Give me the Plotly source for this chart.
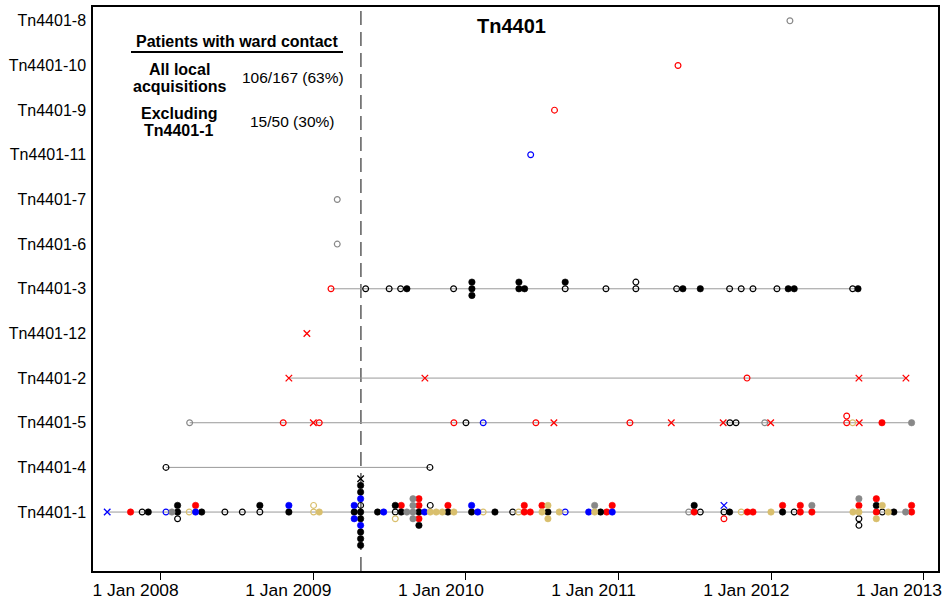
import plotly.graph_objects as go

# Rows, bottom to top
row_names = ["Tn4401-1", "Tn4401-4", "Tn4401-5", "Tn4401-2", "Tn4401-12", "Tn4401-3",
             "Tn4401-6", "Tn4401-7", "Tn4401-11", "Tn4401-9", "Tn4401-10", "Tn4401-8"]

tick_years = [2008, 2009, 2010, 2011, 2012, 2013]
tick_labels = ["1 Jan 2008", "1 Jan 2009", "1 Jan 2010", "1 Jan 2011", "1 Jan 2012", "1 Jan 2013"]

cutoff_year = 2009.312   # dashed vertical line

# events: (decimal year, colour+type code, stack level)
# colour: k black, r red, b blue, g grey, t tan ; type: f filled, o open, x cross
tn1_events = [
    (2007.650, "bx", 0), (2007.803, "rf", 0), (2007.879, "ko", 0), (2007.919, "kf", 0),
    (2008.035, "bo", 0), (2008.074, "gf", 0),
    (2008.111, "kf", 0), (2008.111, "kf", 1), (2008.111, "ko", -1),
    (2008.187, "to", 0), (2008.229, "bf", 0), (2008.229, "rf", 1), (2008.269, "kf", 0),
    (2008.421, "ko", 0), (2008.535, "ko", 0), (2008.650, "ko", 0), (2008.650, "kf", 1),
    (2008.840, "kf", 0), (2008.840, "bf", 1),
    (2009.002, "to", 0), (2009.002, "to", 1), (2009.039, "tf", 0),
    (2009.268, "kf", 0), (2009.268, "bf", 1), (2009.268, "bf", -1),
    (2009.310, "kx", 5), (2009.310, "kf", 4), (2009.310, "kf", 3), (2009.310, "bf", 2),
    (2009.310, "ko", 1), (2009.310, "kf", 0), (2009.310, "kf", -1), (2009.310, "bf", -2),
    (2009.310, "kf", -3), (2009.310, "kf", -4), (2009.310, "kf", -5),
    (2009.421, "kf", 0), (2009.461, "bf", 0),
    (2009.537, "ko", 0), (2009.537, "kf", 1), (2009.537, "to", -1),
    (2009.576, "kf", 0), (2009.576, "rf", 1), (2009.613, "gf", 0),
    (2009.653, "gf", 2), (2009.653, "gf", 1), (2009.653, "gf", 0), (2009.653, "gf", -1),
    (2009.692, "rf", 2), (2009.692, "rf", 1), (2009.692, "kf", 0), (2009.692, "rf", -1),
    (2009.692, "kf", -2),
    (2009.729, "bf", 0), (2009.766, "tf", 0), (2009.766, "ko", 1),
    (2009.805, "tf", 0), (2009.845, "tf", 0), (2009.882, "kf", 0), (2009.882, "rf", 1),
    (2009.921, "tf", 0),
    (2010.037, "kf", 0), (2010.037, "bf", 1), (2010.077, "bf", 0), (2010.113, "to", 0),
    (2010.190, "kf", 0), (2010.306, "ko", 0), (2010.345, "to", 0),
    (2010.382, "rf", 0), (2010.382, "rf", 1), (2010.421, "rf", 0),
    (2010.498, "tf", 0), (2010.498, "rf", 1),
    (2010.537, "kf", 0), (2010.537, "tf", 1), (2010.537, "tf", -1),
    (2010.611, "tf", 0), (2010.650, "bo", 0),
    (2010.804, "bf", 0), (2010.843, "tf", 0), (2010.843, "gf", 1), (2010.882, "kf", 0),
    (2010.922, "rf", 0), (2010.958, "bf", 0), (2010.958, "rf", 1),
    (2011.459, "go", 0), (2011.495, "rf", 0), (2011.495, "kf", 1), (2011.535, "ko", 0),
    (2011.690, "ko", 0), (2011.690, "bx", 1), (2011.690, "ro", -1), (2011.727, "kf", 0),
    (2011.803, "to", 0), (2011.843, "rf", 0), (2011.880, "rf", 0), (2011.998, "tf", 0),
    (2012.074, "kf", 0), (2012.074, "rf", 1), (2012.150, "ko", 0),
    (2012.190, "rf", 0), (2012.190, "rf", 1), (2012.266, "rf", 0), (2012.266, "gf", 1),
    (2012.535, "tf", 0),
    (2012.574, "tf", 0), (2012.574, "rf", 1), (2012.574, "gf", 2), (2012.574, "ko", -1),
    (2012.574, "ko", -2),
    (2012.688, "rf", 0), (2012.688, "kf", 1), (2012.688, "rf", 2), (2012.688, "tf", -1),
    (2012.727, "ko", 0), (2012.727, "tf", 1), (2012.766, "tf", 0), (2012.803, "kf", 0),
    (2012.880, "gf", 0), (2012.919, "rf", 0), (2012.919, "rf", 1),
]

tn4_events = [(2008.035, "ko", 0), (2009.764, "ko", 0)]

tn5_events = [
    (2008.190, "go", 0), (2008.803, "ro", 0), (2009.000, "rx", 0), (2009.039, "ro", 0),
    (2009.921, "ro", 0), (2010.000, "ko", 0), (2010.113, "bo", 0), (2010.458, "ro", 0),
    (2010.576, "rx", 0), (2011.074, "ro", 0), (2011.345, "rx", 0), (2011.685, "rx", 0),
    (2011.729, "ko", 0), (2011.769, "ko", 0), (2011.957, "go", 0), (2011.996, "rx", 0),
    (2012.494, "ro", 0), (2012.494, "ro", 1), (2012.533, "to", 0), (2012.576, "rx", 0),
    (2012.725, "rf", 0), (2012.919, "gf", 0),
]

tn2_events = [(2008.840, "rx", 0), (2009.731, "rx", 0), (2011.841, "ro", 0),
              (2012.574, "rx", 0), (2012.882, "rx", 0)]

tn12_events = [(2008.958, "rx", 0)]

tn3_events = [
    (2009.116, "ro", 0), (2009.343, "ko", 0), (2009.497, "ko", 0), (2009.572, "ko", 0),
    (2009.613, "kf", 0), (2009.919, "ko", 0),
    (2010.039, "kf", 1), (2010.039, "kf", 0), (2010.039, "kf", -1),
    (2010.347, "kf", 0), (2010.347, "kf", 1), (2010.384, "kf", 0),
    (2010.650, "ko", 0), (2010.650, "kf", 1), (2010.917, "ko", 0),
    (2011.113, "ko", 0), (2011.113, "ko", 1), (2011.380, "ko", 0), (2011.421, "kf", 0),
    (2011.535, "kf", 0), (2011.727, "ko", 0), (2011.803, "ko", 0), (2011.880, "ko", 0),
    (2012.037, "ko", 0), (2012.111, "kf", 0), (2012.150, "kf", 0),
    (2012.533, "ko", 0), (2012.568, "kf", 0),
]

tn6_events = [(2009.157, "go", 0)]
tn7_events = [(2009.157, "go", 0)]
tn11_events = [(2010.424, "bo", 0)]
tn9_events = [(2010.580, "ro", 0)]
tn10_events = [(2011.389, "ro", 0)]
tn8_events = [(2012.122, "go", 0)]

rows = {
    "Tn4401-1": tn1_events, "Tn4401-4": tn4_events, "Tn4401-5": tn5_events,
    "Tn4401-2": tn2_events, "Tn4401-12": tn12_events, "Tn4401-3": tn3_events,
    "Tn4401-6": tn6_events, "Tn4401-7": tn7_events, "Tn4401-11": tn11_events,
    "Tn4401-9": tn9_events, "Tn4401-10": tn10_events, "Tn4401-8": tn8_events,
}

# ---- styling ----
STACK = 0.149
COLORS = {"k": "#000000", "r": "#FF0000", "b": "#0000FF", "g": "#888888", "t": "#D9BF6D"}
FONT = "Liberation Sans, Arial, sans-serif"

fig = go.Figure()

# horizontal lines per row
for i, name in enumerate(row_names):
    ev = rows[name]
    xs = [e[0] for e in ev]
    if len(ev) > 1:
        fig.add_trace(go.Scatter(x=[min(xs), max(xs)], y=[i + 1, i + 1], mode="lines",
                                 line=dict(color="#9a9a9a", width=1), hoverinfo="skip",
                                 showlegend=False))

# markers grouped by style
groups = {}
for i, name in enumerate(row_names):
    for yr, code, lvl in rows[name]:
        groups.setdefault(code, ([], []))
        groups[code][0].append(yr)
        groups[code][1].append(i + 1 + lvl * STACK)


def marker_for(code):
    c = COLORS[code[0]]
    kind = code[1]
    if kind == "f":
        return dict(symbol="circle", size=6.4, color=c, line=dict(color=c, width=0.6))
    if kind == "o":
        return dict(symbol="circle-open", size=5.8, color=c, line=dict(color=c, width=1.2))
    return dict(symbol="x-thin-open", size=6.5, color=c, line=dict(color=c, width=1.3))


order = sorted(groups.keys(), key=lambda c: {"o": 0, "x": 1, "f": 2}[c[1]])
for code in order:
    xs, ys = groups[code]
    fig.add_trace(go.Scatter(x=xs, y=ys, mode="markers", marker=marker_for(code),
                             showlegend=False, hoverinfo="x"))

# dashed vertical cutoff line
fig.add_shape(type="line", xref="x", yref="paper", x0=cutoff_year, x1=cutoff_year,
              y0=0, y1=1, line=dict(color="#333333", width=1.2, dash="14px,7px"),
              layer="below")

# table-like text box
def pax(px):
    return (px - 93) / 845.0


def pay(py):
    return (571 - py) / 564.0


annots = [
    ("<b>Patients with ward contact</b>", 237, 41, 16),
    ("<b>All local</b>", 179, 69, 16),
    ("<b>acquisitions</b>", 179, 86, 16),
    ("106/167 (63%)", 293, 77, 15.5),
    ("<b>Excluding</b>", 179, 113, 16),
    ("<b>Tn4401-1</b>", 178, 130, 16),
    ("15/50 (30%)", 292, 121, 15.5),
    ("<b>Tn4401</b>", 511, 26, 20),
]
for txt, px, py, fs in annots:
    fig.add_annotation(text=txt, x=pax(px), y=pay(py), xref="paper", yref="paper",
                       showarrow=False, xanchor="center", yanchor="middle",
                       font=dict(family=FONT, size=fs, color="black"))

fig.add_shape(type="line", xref="paper", yref="paper", x0=pax(131), x1=pax(343),
              y0=pay(52), y1=pay(52), line=dict(color="black", width=2))

fig.update_layout(
    width=942, height=601,
    margin=dict(l=93, r=4, t=7, b=30),
    plot_bgcolor="white", paper_bgcolor="white",
    font=dict(family=FONT, color="black"),
    showlegend=False,
    xaxis=dict(range=[2007.557, 2013.092], tickvals=tick_years, ticktext=tick_labels,
               ticks="outside", ticklen=7, tickwidth=1.3, tickcolor="black",
               showline=True, linewidth=1.5, linecolor="black", mirror=True,
               showgrid=False, zeroline=False, tickfont=dict(size=17.4),
               ticklabelshift=-25, ticklabelstandoff=-5, ticklabeloverflow="allow",
               automargin=False),
    yaxis=dict(range=[-0.32, 12.31], tickvals=list(range(1, 13)), ticktext=row_names,
               ticks="", showline=True, linewidth=1.5, linecolor="black", mirror=True,
               showgrid=False, zeroline=False, tickfont=dict(size=16),
               ticklabelstandoff=2, automargin=False),
)

fig.write_html("out.html", config={"displayModeBar": False},
               post_script="document.body.style.margin='0';document.body.style.overflow='hidden';")
